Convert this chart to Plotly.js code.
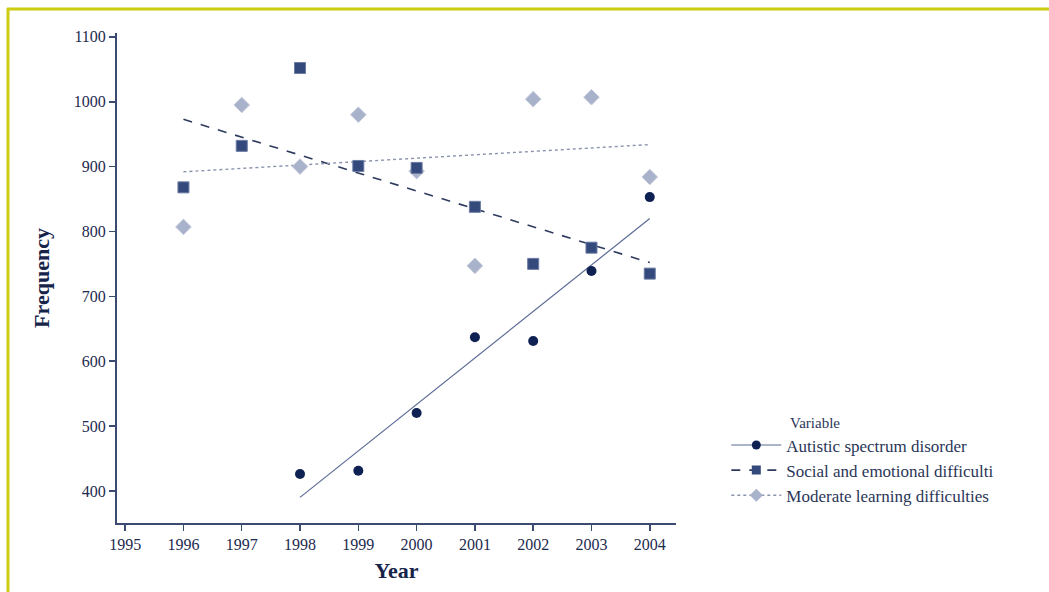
<!DOCTYPE html>
<html>
<head>
<meta charset="utf-8">
<script src="https://cdn.plot.ly/plotly-3.0.1.min.js"></script>
<style>html,body{margin:0;padding:0;background:#fff;}#chart{width:1049px;height:592px;}</style>
</head>
<body>
<div id="chart"></div>
<script>
// Data
const yearsASD = [1998, 1999, 2000, 2001, 2002, 2003, 2004];
const valuesASD = [426, 431, 520, 637, 631, 739, 853];
const yearsSED = [1996, 1997, 1998, 1999, 2000, 2001, 2002, 2003, 2004];
const valuesSED = [868, 932, 1052, 901, 898, 838, 750, 775, 735];
const yearsMLD = [1996, 1997, 1998, 1999, 2000, 2001, 2002, 2003, 2004];
const valuesMLD = [807, 995, 900, 980, 893, 747, 1004, 1007, 884];
// Fitted trend lines (endpoints)
const trendASDx = [1998, 2004];
const trendASDy = [390, 820];
const trendSEDx = [1996, 2004];
const trendSEDy = [973, 752];
const trendMLDx = [1996, 2004];
const trendMLDy = [892, 934];
const seriesNames = ["Autistic spectrum disorder", "Social and emotional difficulti", "Moderate learning difficulties"];
const legendTitle = "Variable";
const xTicks = [1995, 1996, 1997, 1998, 1999, 2000, 2001, 2002, 2003, 2004];
const yTicks = [400, 500, 600, 700, 800, 900, 1000, 1100];

const cASD = "#0f2152", cSED = "#34497c", cMLD = "#a9b2cb";
const lASD = "#5a6a94", lSED = "#2e3a5e", lMLD = "#8a93ad";

const traces = [
  {x: trendASDx, y: trendASDy, mode: "lines", line: {color: lASD, width: 1.2}, showlegend: false, hoverinfo: "skip"},
  {x: trendSEDx, y: trendSEDy, mode: "lines", line: {color: lSED, width: 1.6, dash: "dash"}, showlegend: false, hoverinfo: "skip"},
  {x: trendMLDx, y: trendMLDy, mode: "lines", line: {color: lMLD, width: 1.4, dash: "3px,3px"}, showlegend: false, hoverinfo: "skip"},
  {x: yearsMLD, y: valuesMLD, mode: "markers", marker: {symbol: "diamond", size: 12, color: cMLD, line: {color: "#c3c9da", width: 1}}, showlegend: false},
  {x: yearsSED, y: valuesSED, mode: "markers", marker: {symbol: "square", size: 11, color: cSED, line: {color: "#6b7ca3", width: 1}}, showlegend: false},
  {x: yearsASD, y: valuesASD, mode: "markers", marker: {symbol: "circle", size: 10, color: cASD}, showlegend: false},
  {x: [null], y: [null], name: seriesNames[0], mode: "lines+markers", line: {color: lASD, width: 1.2}, marker: {symbol: "circle", size: 9, color: cASD}},
  {x: [null], y: [null], name: seriesNames[1], mode: "lines+markers", line: {color: lSED, width: 1.6, dash: "dash"}, marker: {symbol: "square", size: 9, color: cSED}},
  {x: [null], y: [null], name: seriesNames[2], mode: "lines+markers", line: {color: lMLD, width: 1.4, dash: "3px,3px"}, marker: {symbol: "diamond", size: 10, color: cMLD}}
];

const tickFont = {family: "Liberation Serif, serif", size: 16, color: "#1c2a4e"};
const layout = {
  width: 1049, height: 592,
  margin: {l: 117, r: 373, t: 33, b: 69},
  paper_bgcolor: "#ffffff", plot_bgcolor: "#ffffff",
  font: {family: "Liberation Serif, serif", color: "#1c2a4e"},
  xaxis: {
    range: [1994.86, 2004.45], tickvals: xTicks, ticktext: xTicks.map(String),
    showgrid: false, zeroline: false, showline: true, linecolor: "#3b4a70", linewidth: 2,
    ticks: "outside", ticklen: 6, tickwidth: 1.5, tickcolor: "#3b4a70", tickfont: tickFont,
    title: {text: "<b>Year</b>", font: {family: "Liberation Serif, serif", size: 22, color: "#16244a"}, standoff: 10}
  },
  yaxis: {
    range: [350.5, 1106], tickvals: yTicks, ticktext: yTicks.map(String),
    showgrid: false, zeroline: false, showline: true, linecolor: "#3b4a70", linewidth: 2,
    ticks: "outside", ticklen: 6, tickwidth: 1.5, tickcolor: "#3b4a70", tickfont: tickFont,
    title: {text: "<b>Frequency</b>", font: {family: "Liberation Serif, serif", size: 22, color: "#16244a"}, standoff: 18}
  },
  legend: {
    x: 1.09, y: 0.195, xanchor: "left", yanchor: "top",
    font: {family: "Liberation Serif, serif", size: 17, color: "#2a3658"},
    itemwidth: 50, tracegroupgap: 0, bgcolor: "rgba(0,0,0,0)"
  },
  annotations: [
    {text: legendTitle, xref: "paper", yref: "paper", x: 1.2, y: 0.204, xanchor: "left", yanchor: "middle", showarrow: false,
     font: {family: "Liberation Serif, serif", size: 15, color: "#2a3658"}}
  ],
  shapes: [
    {type: "line", xref: "paper", yref: "paper", x0: -0.197, x1: 1.7, y0: 1.049, y1: 1.049, line: {color: "#cccc10", width: 3}},
    {type: "line", xref: "paper", yref: "paper", x0: -0.195, x1: -0.195, y0: 1.05, y1: -0.2, line: {color: "#cccc10", width: 3}}
  ]
};
Plotly.newPlot("chart", traces, layout, {displayModeBar: false, staticPlot: true});
</script>
</body>
</html>
